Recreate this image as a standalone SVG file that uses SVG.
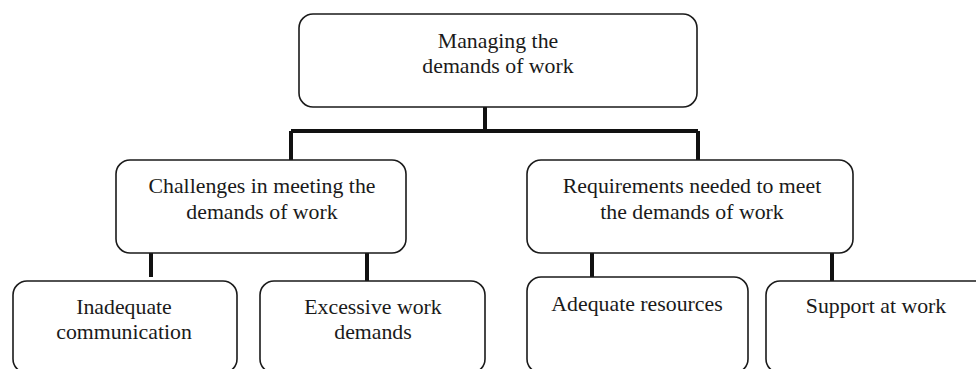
<svg xmlns="http://www.w3.org/2000/svg" width="976" height="369" viewBox="0 0 976 369">
<style>
.box{fill:#fff;stroke:#1a1a1a;stroke-width:1.6}
.t{font-family:"Liberation Serif","Times New Roman",serif;font-size:21.8px;fill:#1a1a1a;text-anchor:middle}
.c{fill:none;stroke:#111;stroke-width:4}
</style>
<rect width="976" height="369" fill="#fff"/>
<g id="connectors">
<path class="c" d="M485 107V131M291 131H698M291 131V160M698 131V160"/>
<path class="c" d="M151 253V277M367 253V281M592 253V277M832 253V281"/>
</g>
<g id="root">
<rect class="box" x="299" y="14" width="398" height="93" rx="14"/>
<text class="t" x="498" y="48">Managing the</text>
<text class="t" x="498" y="73">demands of work</text>
</g>
<g id="challenges">
<rect class="box" x="116" y="160" width="290" height="93" rx="14"/>
<text class="t" x="262" y="193">Challenges in meeting the</text>
<text class="t" x="262" y="219">demands of work</text>
</g>
<g id="requirements">
<rect class="box" x="527" y="160" width="326" height="93" rx="14"/>
<text class="t" x="692" y="193">Requirements needed to meet</text>
<text class="t" x="692" y="219">the demands of work</text>
</g>
<g id="communication">
<rect class="box" x="13" y="281" width="224" height="92" rx="14"/>
<text class="t" x="124" y="314">Inadequate</text>
<text class="t" x="124" y="339">communication</text>
</g>
<g id="excessive">
<rect class="box" x="260" y="281" width="225" height="92" rx="14"/>
<text class="t" x="373" y="314">Excessive work</text>
<text class="t" x="373" y="339">demands</text>
</g>
<g id="resources">
<rect class="box" x="527" y="277" width="221" height="96" rx="14"/>
<text class="t" x="637" y="311">Adequate resources</text>
</g>
<g id="support">
<rect class="box" x="766" y="281" width="230" height="92" rx="14"/>
<text class="t" x="876" y="313">Support at work</text>
</g>
</svg>
